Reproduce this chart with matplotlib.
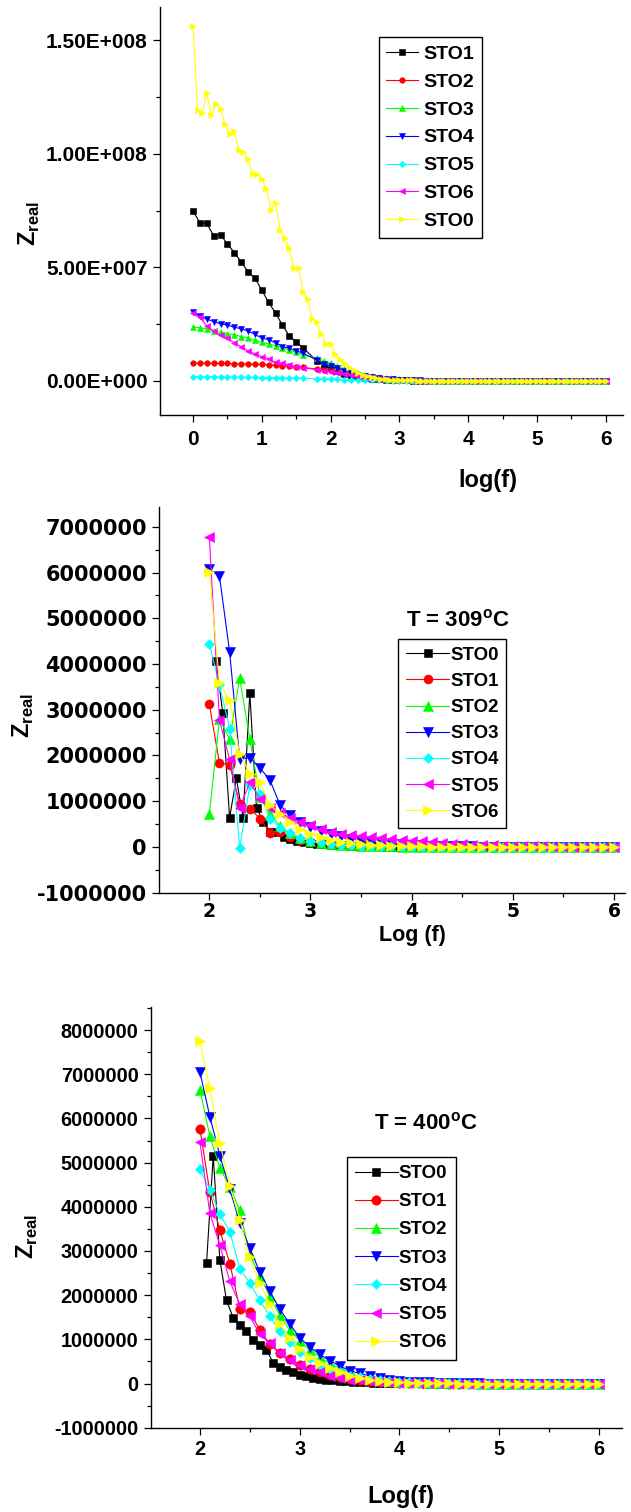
import matplotlib
matplotlib.use("Agg")
import matplotlib.pyplot as plt
from matplotlib.ticker import MultipleLocator
from matplotlib.font_manager import FontProperties

plt.rcParams["mathtext.fontset"] = "custom"
plt.rcParams["mathtext.bf"] = "Liberation Sans:bold"
plt.rcParams["mathtext.rm"] = "Liberation Sans:bold"

# Z_real 数值, 单位 1E6

# ---- 上图 (STO1..STO6 每十倍频 10 点, 缺 1.7; STO0 每十倍频 15 点) ----
x_top = [round(0.1 * i, 1) for i in range(61) if i != 17]
x_top_sto0 = [i / 15 for i in range(91)]
top_labels = ["STO1", "STO2", "STO3", "STO4", "STO5", "STO6", "STO0"]

top_sto1 = [74.7, 69.7, 69.3, 63.9, 64.3, 60.3, 56.5, 52.4, 48.0, 45.2,
            39.9, 34.5, 29.8, 24.5, 19.7, 17.2, 14.4,
            8.8, 7.0, 5.5, 4.1, 3.0, 2.2, 1.6, 1.1, 0.8, 0.55, 0.4, 0.3,
            0.2, 0.15, 0.1, 0.08, 0.06, 0.05, 0.04, 0.03, 0.03, 0.02,
            0.02, 0.02, 0.01, 0.01, 0.01, 0.01, 0.01, 0.01, 0.0, 0.0,
            0.0, 0.0, 0.0, 0.0, 0.0, 0.0, 0.0, 0.0, 0.0, 0.0, 0.0]
top_sto2 = [7.8, 7.8, 7.7, 7.7, 7.6, 7.6, 7.5, 7.5, 7.4, 7.3,
            7.2, 7.0, 6.9, 6.7, 6.4, 6.1, 5.9,
            5.1, 4.8, 4.6, 4.3, 3.8, 3.3, 2.7, 2.2, 1.7, 1.2, 0.9, 0.6,
            0.4, 0.25, 0.15, 0.1, 0.07, 0.05, 0.04, 0.03, 0.03, 0.02,
            0.02, 0.01, 0.01, 0.01, 0.01, 0.01, 0.0, 0.0, 0.0, 0.0,
            0.0, 0.0, 0.0, 0.0, 0.0, 0.0, 0.0, 0.0, 0.0, 0.0, 0.0]
top_sto3 = [23.8, 23.3, 22.9, 21.9, 21.4, 20.7, 20.3, 19.4, 18.8, 17.9,
            16.9, 16.3, 15.4, 14.5, 13.5, 12.5, 11.3,
            10.0, 8.8, 7.9, 6.4, 5.2, 4.3, 3.5, 2.7, 2.0, 1.5, 1.1, 0.8,
            0.55, 0.4, 0.28, 0.2, 0.14, 0.1, 0.07, 0.05, 0.04, 0.03,
            0.02, 0.02, 0.01, 0.01, 0.01, 0.01, 0.0, 0.0, 0.0, 0.0,
            0.0, 0.0, 0.0, 0.0, 0.0, 0.0, 0.0, 0.0, 0.0, 0.0, 0.0]
top_sto4 = [30.4, 28.4, 27.2, 26.0, 25.1, 24.5, 23.6, 22.9, 21.9, 20.4,
            18.8, 18.1, 16.7, 15.0, 14.3, 13.2, 12.1,
            9.1, 7.3, 6.4, 5.6, 4.4, 3.5, 2.7, 2.0, 1.5, 1.1, 0.8, 0.6,
            0.42, 0.3, 0.21, 0.15, 0.1, 0.07, 0.05, 0.04, 0.03, 0.02,
            0.02, 0.02, 0.01, 0.01, 0.01, 0.01, 0.0, 0.0, 0.0, 0.0,
            0.0, 0.0, 0.0, 0.0, 0.0, 0.0, 0.0, 0.0, 0.0, 0.0, 0.0]
top_sto5 = [1.8, 1.75, 1.7, 1.7, 1.65, 1.6, 1.6, 1.55, 1.5, 1.45,
            1.4, 1.35, 1.3, 1.25, 1.2, 1.1, 1.05,
            0.9, 0.8, 0.7, 0.6, 0.5, 0.42, 0.35, 0.28, 0.22, 0.17, 0.13, 0.1,
            0.08, 0.06, 0.05, 0.04, 0.03, 0.03, 0.02, 0.02, 0.02, 0.01,
            0.01, 0.01, 0.01, 0.01, 0.0, 0.0, 0.0, 0.0, 0.0, 0.0,
            0.0, 0.0, 0.0, 0.0, 0.0, 0.0, 0.0, 0.0, 0.0, 0.0, 0.0]
top_sto6 = [30.0, 27.9, 24.1, 21.9, 20.1, 18.7, 16.7, 15.0, 13.2, 11.8,
            10.6, 9.6, 8.1, 7.7, 6.9, 6.2, 5.7,
            4.9, 4.4, 4.0, 3.5, 2.9, 2.5, 2.1, 1.6, 1.2, 0.9, 0.65, 0.45,
            0.32, 0.22, 0.15, 0.1, 0.07, 0.05, 0.04, 0.03, 0.02, 0.02,
            0.02, 0.01, 0.01, 0.01, 0.01, 0.0, 0.0, 0.0, 0.0, 0.0,
            0.0, 0.0, 0.0, 0.0, 0.0, 0.0, 0.0, 0.0, 0.0, 0.0, 0.0]
top_sto0 = [156.2, 119.2, 118.0, 126.8, 117.0, 121.8, 119.9, 113.0, 108.9, 109.9,
            101.6, 100.8, 97.5, 91.0, 91.0, 89.1, 84.7, 75.4, 78.4, 66.6,
            62.7, 58.3, 49.8, 49.8, 38.9, 36.0, 27.4, 26.0, 20.4, 16.4,
            16.4, 12.0, 9.4, 7.9, 6.2, 4.7, 3.5, 2.6, 2.1, 1.5,
            1.0, 0.8, 0.6, 0.45, 0.35, 0.25, 0.2, 0.15, 0.12, 0.1,
            0.08, 0.06, 0.05, 0.04, 0.04, 0.03, 0.03, 0.02, 0.02, 0.02,
            0.01, 0.01, 0.01, 0.01, 0.01, 0.01, 0.01, 0.01, 0.01, 0.01,
            0.01, 0.01, 0.0, 0.0, 0.0, 0.0, 0.0, 0.0, 0.0, 0.0,
            0.0, 0.0, 0.0, 0.0, 0.0, 0.0, 0.0, 0.0, 0.0, 0.0, 0.0]

# ---- 中图 T = 309 C ----
x_mid = [round(2 + 0.1 * i, 1) for i in range(41)]
x_mid_sto0 = [2 + k / 15 for k in range(1, 61)]
mid_labels = ["STO0", "STO1", "STO2", "STO3", "STO4", "STO5", "STO6"]

mid_sto0 = [4.06, 2.92, 0.64, 1.50, 0.64, 3.36, 0.86, 0.55, 0.33, 0.33,
            0.22, 0.18, 0.14, 0.10, 0.08, 0.07, 0.06, 0.05, 0.04, 0.04,
            0.03, 0.03, 0.02, 0.02, 0.02, 0.01, 0.01, 0.01, 0.01, 0.01,
            0.01, 0.01, 0.01, 0.0, 0.0, 0.0, 0.0, 0.0, 0.0, 0.0,
            0.0, 0.0, 0.0, 0.0, 0.0, 0.0, 0.0, 0.0, 0.0, 0.0,
            0.0, 0.0, 0.0, 0.0, 0.0, 0.0, 0.0, 0.0, 0.0, 0.0]
mid_sto1 = [3.12, 1.83, 1.80, 0.95, 0.84, 0.62, 0.31, 0.33, 0.22, 0.16,
            0.11, 0.08, 0.06, 0.05, 0.04, 0.03, 0.03, 0.02, 0.02, 0.02,
            0.01, 0.01, 0.01, 0.01, 0.01, 0.0, 0.0, 0.0, 0.0, 0.0,
            0.0, 0.0, 0.0, 0.0, 0.0, 0.0, 0.0, 0.0, 0.0, 0.0, 0.0]
mid_sto2 = [0.72, 2.80, 2.35, 3.70, 2.35, 1.10, 0.72, 0.45, 0.30, 0.20,
            0.13, 0.09, 0.07, 0.05, 0.04, 0.03, 0.03, 0.02, 0.02, 0.01,
            0.01, 0.01, 0.01, 0.01, 0.0, 0.0, 0.0, 0.0, 0.0, 0.0,
            0.0, 0.0, 0.0, 0.0, 0.0, 0.0, 0.0, 0.0, 0.0, 0.0, 0.0]
mid_sto3 = [6.07, 5.92, 4.27, 1.93, 1.95, 1.73, 1.46, 0.91, 0.69, 0.55,
            0.44, 0.36, 0.29, 0.23, 0.18, 0.14, 0.11, 0.09, 0.07, 0.06,
            0.05, 0.04, 0.03, 0.03, 0.02, 0.02, 0.02, 0.01, 0.01, 0.01,
            0.01, 0.01, 0.0, 0.0, 0.0, 0.0, 0.0, 0.0, 0.0, 0.0, 0.0]
mid_sto4 = [4.44, 3.55, 2.59, -0.02, 1.35, 1.15, 0.62, 0.42, 0.30, 0.20,
            0.14, 0.10, 0.07, 0.05, 0.04, 0.03, 0.03, 0.02, 0.02, 0.01,
            0.01, 0.01, 0.01, 0.0, 0.0, 0.0, 0.0, 0.0, 0.0, 0.0,
            0.0, 0.0, 0.0, 0.0, 0.0, 0.0, 0.0, 0.0, 0.0, 0.0, 0.0]
mid_sto5 = [6.77, 2.77, 1.92, 0.86, 1.41, 1.05, 0.85, 0.74, 0.64, 0.55,
            0.47, 0.39, 0.33, 0.29, 0.26, 0.24, 0.21, 0.19, 0.17, 0.16,
            0.14, 0.12, 0.10, 0.08, 0.07, 0.06, 0.05, 0.04, 0.04, 0.03,
            0.03, 0.02, 0.02, 0.02, 0.01, 0.01, 0.01, 0.01, 0.0, 0.0, 0.0]
mid_sto6 = [6.02, 3.59, 3.21, 2.04, 1.60, 1.42, 0.92, 0.73, 0.55, 0.40,
            0.29, 0.21, 0.15, 0.11, 0.08, 0.06, 0.05, 0.04, 0.03, 0.02,
            0.02, 0.02, 0.01, 0.01, 0.01, 0.01, 0.0, 0.0, 0.0, 0.0,
            0.0, 0.0, 0.0, 0.0, 0.0, 0.0, 0.0, 0.0, 0.0, 0.0, 0.0]

# ---- 下图 T = 400 C ----
x_bot = [round(2 + 0.1 * i, 1) for i in range(41)]
x_bot_sto0 = [2 + k / 15 for k in range(1, 61)]
bot_labels = ["STO0", "STO1", "STO2", "STO3", "STO4", "STO5", "STO6"]

bot_sto0 = [2.73, 5.15, 2.80, 1.88, 1.49, 1.32, 1.18, 0.99, 0.88, 0.77,
            0.47, 0.37, 0.31, 0.25, 0.20, 0.16, 0.13, 0.11, 0.09, 0.07,
            0.06, 0.05, 0.04, 0.03, 0.03, 0.02, 0.02, 0.02, 0.01, 0.01,
            0.01, 0.01, 0.01, 0.0, 0.0, 0.0, 0.0, 0.0, 0.0, 0.0,
            0.0, 0.0, 0.0, 0.0, 0.0, 0.0, 0.0, 0.0, 0.0, 0.0,
            0.0, 0.0, 0.0, 0.0, 0.0, 0.0, 0.0, 0.0, 0.0, 0.0]
bot_sto1 = [5.77, 4.33, 3.47, 2.71, 1.69, 1.61, 1.22, 0.89, 0.68, 0.55,
            0.42, 0.32, 0.25, 0.20, 0.14, 0.10, 0.07, 0.05, 0.04, 0.03,
            0.02, 0.02, 0.01, 0.01, 0.01, 0.0, 0.0, 0.0, 0.0, 0.0,
            0.0, 0.0, 0.0, 0.0, 0.0, 0.0, 0.0, 0.0, 0.0, 0.0, 0.0]
bot_sto2 = [6.65, 5.60, 4.88, 4.45, 3.92, 2.93, 2.44, 1.97, 1.55, 1.21,
            0.97, 0.76, 0.61, 0.46, 0.35, 0.25, 0.17, 0.12, 0.08, 0.06,
            0.04, 0.03, 0.03, 0.02, 0.02, 0.01, 0.01, 0.01, 0.0, 0.0,
            0.0, 0.0, 0.0, 0.0, 0.0, 0.0, 0.0, 0.0, 0.0, 0.0, 0.0]
bot_sto3 = [7.05, 6.04, 5.16, 4.40, 3.63, 3.06, 2.53, 2.09, 1.69, 1.35,
            1.04, 0.83, 0.66, 0.52, 0.40, 0.29, 0.23, 0.17, 0.12, 0.08,
            0.06, 0.04, 0.03, 0.03, 0.02, 0.02, 0.01, 0.01, 0.01, 0.0,
            0.0, 0.0, 0.0, 0.0, 0.0, 0.0, 0.0, 0.0, 0.0, 0.0, 0.0]
bot_sto4 = [4.85, 4.39, 3.83, 3.44, 2.59, 2.28, 1.88, 1.53, 1.18, 0.95,
            0.72, 0.57, 0.42, 0.32, 0.25, 0.17, 0.14, 0.10, 0.07, 0.05,
            0.04, 0.03, 0.02, 0.02, 0.01, 0.01, 0.01, 0.0, 0.0, 0.0,
            0.0, 0.0, 0.0, 0.0, 0.0, 0.0, 0.0, 0.0, 0.0, 0.0, 0.0]
bot_sto5 = [5.47, 3.85, 3.13, 2.31, 1.79, 1.52, 1.12, 0.91, 0.70, 0.54,
            0.42, 0.32, 0.25, 0.17, 0.12, 0.09, 0.07, 0.05, 0.04, 0.03,
            0.02, 0.02, 0.01, 0.01, 0.01, 0.0, 0.0, 0.0, 0.0, 0.0,
            0.0, 0.0, 0.0, 0.0, 0.0, 0.0, 0.0, 0.0, 0.0, 0.0, 0.0]
bot_sto6 = [7.75, 6.68, 5.45, 4.47, 3.71, 2.86, 2.28, 1.80, 1.35, 1.03,
            0.78, 0.60, 0.46, 0.35, 0.25, 0.17, 0.12, 0.08, 0.05, 0.04,
            0.03, 0.02, 0.02, 0.01, 0.01, 0.01, 0.0, 0.0, 0.0, 0.0,
            0.0, 0.0, 0.0, 0.0, 0.0, 0.0, 0.0, 0.0, 0.0, 0.0, 0.0]

colors = ["#000000", "#ff0000", "#00ff00", "#0000ff", "#00ffff", "#ff00ff", "#ffff00"]
markers = ["s", "o", "^", "v", "D", "<", ">"]
msize_k = {"s": 0.8, "o": 0.88, "^": 1.0, "v": 1.0, "D": 0.72, "<": 1.0, ">": 1.0}

W, H = 631, 1512
fig = plt.figure(figsize=(W / 100, H / 100), dpi=100)


def px_box(left, top, right, bottom):
    # 像素坐标 -> figure 坐标
    return [left / W, 1 - bottom / H, (right - left) / W, (bottom - top) / H]


def fig_text(x, y, s, **kw):
    return fig.text(x / W, 1 - y / H, s, **kw)


def sci_label(v):
    # Origin 风格 1.50E+008
    mant, exp = ("%.2E" % v).split("E")
    return "%sE%s%03d" % (mant, exp[0], abs(int(exp)))


def draw_series(ax, xs_list, ys_list, labels, ms):
    for i in range(7):
        m = markers[i]
        ax.plot(xs_list[i], [v * 1e6 for v in ys_list[i]], color=colors[i], lw=0.8,
                marker=m, ms=ms * msize_k[m], mfc=colors[i], mec=colors[i], mew=0.4,
                label=labels[i])


def style_axes(ax, xlim, ylim, xticks, yticks, ylabels, xfont, yfont, xminor, yminor):
    ax.set_xlim(*xlim)
    ax.set_ylim(*ylim)
    for s in ["top", "right"]:
        ax.spines[s].set_visible(False)
    for s in ["left", "bottom"]:
        ax.spines[s].set_linewidth(1.0)
    ax.set_xticks(xticks, labels=[str(t) for t in xticks], fontproperties=xfont)
    ax.set_yticks(yticks, labels=ylabels, fontproperties=yfont)
    ax.xaxis.set_minor_locator(MultipleLocator(xminor))
    ax.yaxis.set_minor_locator(MultipleLocator(yminor))
    ax.tick_params(which="major", direction="out", length=5, width=0.9, pad=4)
    ax.tick_params(which="minor", direction="out", length=3, width=0.9)


def make_legend(ax, x, y, prop, hl, htp, ls, bp):
    leg = ax.legend(loc="upper left", bbox_to_anchor=(x / W, 1 - y / H),
                    bbox_transform=fig.transFigure, borderaxespad=0, numpoints=1,
                    prop=prop, fancybox=False, framealpha=1, edgecolor="black",
                    handlelength=hl, handletextpad=htp, labelspacing=ls, borderpad=bp)
    leg.get_frame().set_linewidth(1.0)
    return leg


# ---------------- 上图 ----------------
fp_top = FontProperties(family="Liberation Sans", weight="bold", size=15)
ax1 = fig.add_axes(px_box(160, 7, 623, 415))
draw_series(ax1, [x_top] * 6 + [x_top_sto0],
            [top_sto1, top_sto2, top_sto3, top_sto4, top_sto5, top_sto6, top_sto0],
            top_labels, 4.6)
yt1 = [0, 5e7, 1e8, 1.5e8]
style_axes(ax1, (-0.48, 6.25), (-1.51e7, 1.647e8), [0, 1, 2, 3, 4, 5, 6], yt1,
           [sci_label(v) for v in yt1], fp_top, fp_top, 0.5, 2.5e7)
ax1.tick_params(axis="x", pad=6)
make_legend(ax1, 378.7, 37.3, FontProperties(family="Liberation Sans", weight="bold", size=14),
            1.6, 0.3, 0.53, 0.4)
fig_text(29, 224, r"$\mathbf{Z}_{\mathbf{real}}$", rotation=90, ha="center", va="center", fontsize=17)
fig_text(488, 480, "log(f)", ha="center", va="center", family="Liberation Sans", weight="bold", fontsize=17)

# ---------------- 中图 ----------------
fp_mid_y = FontProperties(family="DejaVu Sans", weight="bold", size=15)
fp_mid_x = FontProperties(family="DejaVu Sans", weight="bold", size=13.5)
fp_leg = FontProperties(family="Liberation Sans", weight="bold", size=13.4)
ax2 = fig.add_axes(px_box(159.3, 506.7, 625, 892.7))
draw_series(ax2, [x_mid_sto0] + [x_mid] * 6,
            [mid_sto0, mid_sto1, mid_sto2, mid_sto3, mid_sto4, mid_sto5, mid_sto6],
            mid_labels, 7.4)
yt2 = [-1e6, 0, 1e6, 2e6, 3e6, 4e6, 5e6, 6e6, 7e6]
style_axes(ax2, (1.505, 6.11), (-1e6, 7.44e6), [2, 3, 4, 5, 6], yt2,
           ["%d" % v for v in yt2], fp_mid_x, fp_mid_y, 0.5, 5e5)
ax2.tick_params(axis="x", pad=2)
make_legend(ax2, 398.3, 639.3, fp_leg, 2.35, 0.05, 0.49, 0.4)
fig_text(457.5, 626, r"T = 309$^{\mathbf{o}}$C", ha="center", va="baseline",
         family="Liberation Sans", weight="bold", fontsize=16)
fig_text(23, 716, r"$\mathbf{Z}_{\mathbf{real}}$", rotation=90, ha="center", va="center", fontsize=17)
fig_text(412, 935, "Log (f)", ha="center", va="center", family="Liberation Sans", weight="bold", fontsize=15.5)

# ---------------- 下图 ----------------
fp_bot_tick = FontProperties(family="Liberation Sans", weight="bold", size=14.3)
ax3 = fig.add_axes(px_box(151, 1006.7, 622, 1427.7))
draw_series(ax3, [x_bot_sto0] + [x_bot] * 6,
            [bot_sto0, bot_sto1, bot_sto2, bot_sto3, bot_sto4, bot_sto5, bot_sto6],
            bot_labels, 7.7)
yt3 = [-1e6, 0, 1e6, 2e6, 3e6, 4e6, 5e6, 6e6, 7e6, 8e6]
style_axes(ax3, (1.51, 6.23), (-1e6, 8.53e6), [2, 3, 4, 5, 6], yt3,
           ["%d" % v for v in yt3], fp_bot_tick, fp_bot_tick, 0.5, 5e5)
make_legend(ax3, 346.7, 1156.7, fp_leg, 2.3, 0.05, 0.6, 0.45)
fig_text(426.3, 1129, r"T = 400$^{\mathbf{o}}$C", ha="center", va="baseline",
         family="Liberation Sans", weight="bold", fontsize=16)
fig_text(27, 1237, r"$\mathbf{Z}_{\mathbf{real}}$", rotation=90, ha="center", va="center", fontsize=17)
fig_text(401, 1497, "Log(f)", ha="center", va="center", family="Liberation Sans", weight="bold", fontsize=17)

fig.savefig("out.png", dpi=100, facecolor="white")
